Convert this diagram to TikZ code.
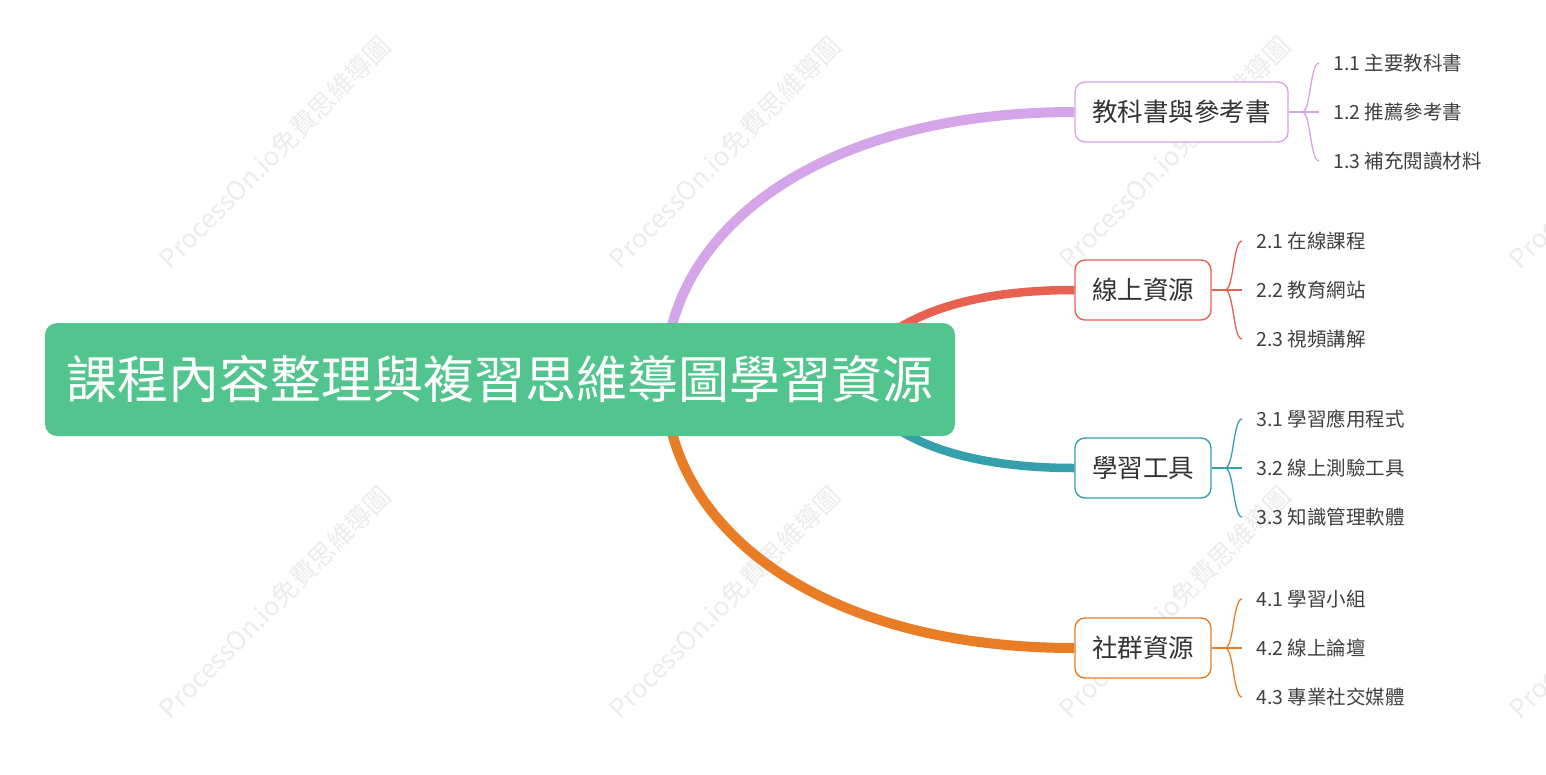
\documentclass[tikz,border=0pt]{standalone}
\usepackage{fontspec}
\setmainfont{Noto Sans CJK TC}
\definecolor{rootgreen}{RGB}{82,196,141}
\definecolor{cpurple}{RGB}{212,165,232}
\definecolor{cred}{RGB}{232,96,80}
\definecolor{cteal}{RGB}{53,159,171}
\definecolor{corange}{RGB}{232,125,38}
\definecolor{txt}{RGB}{51,51,51}
\definecolor{leaftxt}{RGB}{64,64,64}
\definecolor{wm}{RGB}{236,236,236}
\pgfdeclarelayer{wmlayer}
\pgfdeclarelayer{linelayer}
\pgfsetlayers{wmlayer,linelayer,main}
\tikzset{
  rootbox/.style={draw=none, fill=rootgreen, rounded corners=12pt, minimum width=910pt, minimum height=113pt, inner sep=0pt, text=white, font=\fontsize{51}{51}\selectfont},
  branchbox/.style={draw=#1, fill=white, line width=1.4pt, rounded corners=10pt, minimum height=60pt, inner sep=0pt, text=txt, font=\fontsize{25.5}{25.5}\selectfont},
  leaf/.style={anchor=west, inner xsep=14pt, inner ysep=0pt, text=leaftxt, font=\fontsize{19.5}{19.5}\selectfont},
  mainline/.style={draw=#1, line width=10pt},
  subline/.style={draw=#1, line width=8.5pt},
  fork/.style={draw=#1, line width=1.3pt},
  watermark/.style={text=wm, rotate=45, font=\fontsize{26}{26}\selectfont}
}
\begin{document}
\begin{tikzpicture}[x=1pt,y=-1pt]
\useasboundingbox (0,0) rectangle (1546,774);
\begin{pgfonlayer}{wmlayer}
\fill[white] (0,0) rectangle (1546,774);
\begin{scope}
\clip (0,0) rectangle (1546,774);
\foreach \wx in {275,725,1175,1625}{
  \foreach \wy in {152,602}{
    \node[watermark] at (\wx,\wy) {ProcessOn.io免費思維導圖};
  }
}
\end{scope}
\end{pgfonlayer}
% root
\node[rootbox] (root) at (500,379.5) {課程內容整理與複習思維導圖學習資源};
\coordinate (rA) at (665,379);
\coordinate (rB) at (850,379);
% branch nodes
\node[branchbox=cpurple, minimum width=213pt] (b1) at (1181.5,112) {教科書與參考書};
\node[branchbox=cred, minimum width=136pt] (b2) at (1143,290) {線上資源};
\node[branchbox=cteal, minimum width=136pt] (b3) at (1143,468) {學習工具};
\node[branchbox=corange, minimum width=136pt] (b4) at (1143,648) {社群資源};
% main connectors (behind the nodes)
\begin{pgfonlayer}{linelayer}
\draw[mainline=cpurple] (rA) .. controls (665,230) and (820,112) .. (b1.west);
\draw[mainline=corange] (rA) .. controls (665,528) and (820,648) .. (b4.west);
\draw[subline=cred] (rB) .. controls (880,320) and (960,290) .. (b2.west);
\draw[subline=cteal] (rB) .. controls (880,438) and (960,468) .. (b3.west);
\end{pgfonlayer}
% leaves
\node[leaf] (l11) at (1319,63) {1.1 主要教科書};
\node[leaf] (l12) at (1319,112) {1.2 推薦參考書};
\node[leaf] (l13) at (1319,161) {1.3 補充閱讀材料};
\node[leaf] (l21) at (1242,241) {2.1 在線課程};
\node[leaf] (l22) at (1242,290) {2.2 教育網站};
\node[leaf] (l23) at (1242,339) {2.3 視頻講解};
\node[leaf] (l31) at (1242,419) {3.1 學習應用程式};
\node[leaf] (l32) at (1242,468) {3.2 線上測驗工具};
\node[leaf] (l33) at (1242,517) {3.3 知識管理軟體};
\node[leaf] (l41) at (1242,599) {4.1 學習小組};
\node[leaf] (l42) at (1242,648) {4.2 線上論壇};
\node[leaf] (l43) at (1242,697) {4.3 專業社交媒體};
% forks
\coordinate (f1) at (1302,112);
\coordinate (f2) at (1225,290);
\coordinate (f3) at (1225,468);
\coordinate (f4) at (1225,648);
\foreach \b/\c in {1/cpurple,2/cred,3/cteal,4/corange}{
  \draw[fork=\c] (b\b.east) -- (l\b2.west);
  \draw[fork=\c] (f\b) .. controls +(9,0) and +(-9,0) .. (l\b1.west);
  \draw[fork=\c] (f\b) .. controls +(9,0) and +(-9,0) .. (l\b3.west);
}
\end{tikzpicture}
\end{document}
